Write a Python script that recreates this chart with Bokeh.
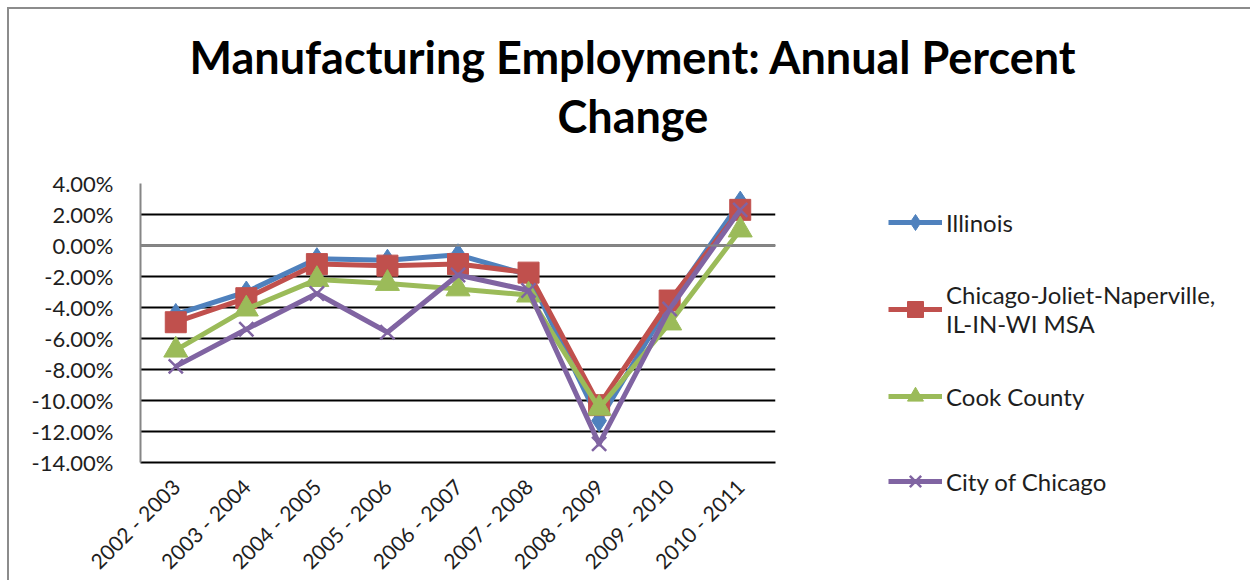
from math import pi
from bokeh.plotting import figure
from bokeh.models import (Range1d, FactorRange, FixedTicker, PrintfTickFormatter, Span,
                          Legend, LegendItem, Title, ColumnDataSource)
from bokeh.embed import file_html
from bokeh.resources import INLINE

# ---- data ----
title_lines = ["Manufacturing Employment: Annual Percent", "Change"]
categories = ["2002 - 2003", "2003 - 2004", "2004 - 2005", "2005 - 2006", "2006 - 2007",
              "2007 - 2008", "2008 - 2009", "2009 - 2010", "2010 - 2011"]
illinois = [-4.45, -3.0, -0.85, -0.95, -0.6, -1.9, -11.3, -3.7, 2.8]
msa = [-4.95, -3.4, -1.2, -1.3, -1.2, -1.75, -10.3, -3.55, 2.3]
cook = [-6.75, -4.1, -2.2, -2.45, -2.8, -3.2, -10.5, -5.0, 1.0]
city = [-7.8, -5.4, -3.1, -5.6, -1.9, -2.9, -12.8, -4.1, 2.3]
y_ticks = [-14, -12, -10, -8, -6, -4, -2, 0, 2, 4]
series_names = ["Illinois", "Chicago-Joliet-Naperville,\nIL-IN-WI MSA", "Cook County", "City of Chicago"]

colors = ["#4F81BD", "#C0504D", "#9BBB59", "#8064A2"]
markers = ["diamond", "square", "triangle", "x"]
msizes = [22, 21, 24, 20]
FONT = "Lato"
TXT = "#1e1e1e"

p = figure(frame_width=635, frame_height=279, x_range=FactorRange(*categories, range_padding=0),
           y_range=Range1d(-14, 4), output_backend="svg", toolbar_location=None,
           min_border_left=131, min_border_right=0, min_border_top=174, min_border_bottom=118)
p.styles = {"margin-left": "7px", "margin-top": "7px",
            "border-left": "2px solid #8c8c8c", "border-top": "2px solid #8c8c8c"}
p.outline_line_color = None
p.background_fill_color = "white"
p.border_fill_color = "white"

# grid
p.xgrid.grid_line_color = None
p.ygrid.ticker = FixedTicker(ticks=y_ticks)
p.ygrid.grid_line_color = "black"
p.ygrid.grid_line_width = 2

# axes
p.yaxis.ticker = FixedTicker(ticks=y_ticks)
p.yaxis.formatter = PrintfTickFormatter(format="%.2f%%")
p.yaxis.axis_line_color = "#868686"
p.yaxis.axis_line_width = 2
p.yaxis.major_tick_line_color = None
p.yaxis.minor_tick_line_color = None
p.yaxis.major_tick_out = 0
p.yaxis.major_tick_in = 0
p.yaxis.major_label_standoff = 27
p.yaxis.major_label_text_font = FONT
p.yaxis.major_label_text_font_size = "22px"
p.yaxis.major_label_text_color = TXT

p.xaxis.axis_line_color = "black"
p.xaxis.axis_line_width = 2
p.xaxis.major_tick_line_color = None
p.xaxis.major_tick_out = 0
p.xaxis.major_tick_in = 0
p.xaxis.major_label_orientation = pi / 4
p.xaxis.major_label_standoff = 20
p.xaxis.major_label_text_font = FONT
p.xaxis.major_label_text_font_size = "21px"
p.xaxis.major_label_text_color = TXT

# zero line (horizontal axis crossing)
p.add_layout(Span(location=0, dimension="width", line_color="#868686", line_width=2))

series = [illinois, msa, cook, city]
renderers = []
for vals, c, m, s in zip(series, colors, markers, msizes):
    src = ColumnDataSource(dict(x=categories, y=vals))
    l = p.line("x", "y", source=src, line_color=c, line_width=5, line_join="round")
    if m == "x":
        sc = p.scatter("x", "y", source=src, marker=m, size=s, line_color=c, line_width=2.5)
    else:
        sc = p.scatter("x", "y", source=src, marker=m, size=s, fill_color=c, line_color=c)
    renderers.append([l, sc])

legend = Legend(items=[LegendItem(label=n, renderers=rs) for n, rs in zip(series_names, renderers)],
                location=(113, -46), orientation="vertical", padding=0, margin=0, spacing=31,
                glyph_width=54, glyph_height=40, label_height=54, label_standoff=4,
                label_text_font=FONT, label_text_font_size="24px", label_text_color=TXT,
                label_text_line_height=1.3,
                border_line_color=None, background_fill_alpha=0)
p.add_layout(legend, "right")

# title: spacer nearest the plot, then the two title lines
p.add_layout(Title(text=" ", text_font_size="2px", standoff=35), "above")
p.add_layout(Title(text=title_lines[1], align="left", offset=417, standoff=3,
                   text_font=FONT, text_font_size="45px", text_font_style="bold",
                   text_color="black"), "above")
p.add_layout(Title(text=title_lines[0], align="left", offset=49, standoff=3,
                   text_font=FONT, text_font_size="45px", text_font_style="bold",
                   text_color="black"), "above")

open("out.html", "w").write(file_html(p, INLINE))
